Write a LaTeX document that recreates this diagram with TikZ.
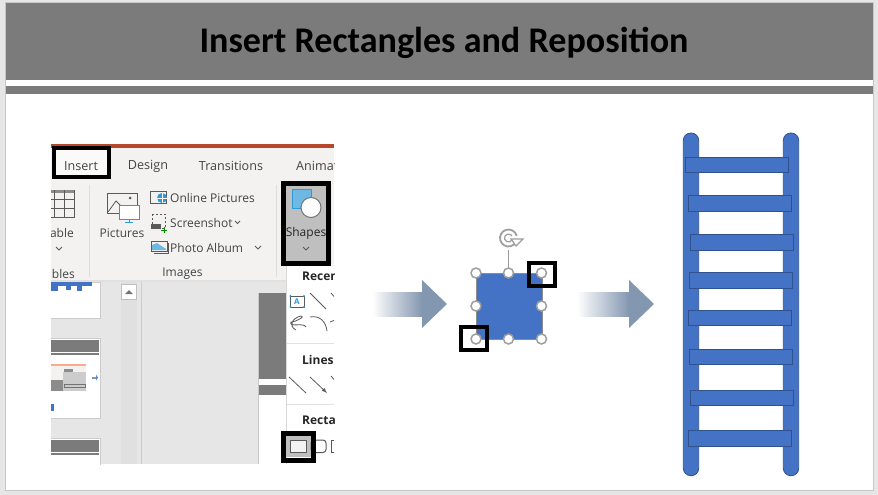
\documentclass[tikz,border=0pt]{standalone}
\usepackage{fontspec}
\setmainfont{Carlito}
\newfontfamily\uifont{Open Sans}
\definecolor{slidegrey}{HTML}{7B7B7B}
\definecolor{bluefill}{HTML}{4472C4}
\definecolor{blueline}{HTML}{2F528F}
\definecolor{arrowblue}{HTML}{8497B0}
\definecolor{ribbonbg}{HTML}{F3F2F1}
\definecolor{panelbg}{HTML}{E6E6E6}
\definecolor{uitext}{HTML}{444444}
\definecolor{iconblue}{HTML}{2E9BD9}
\definecolor{iconline}{HTML}{5A5A5A}
\definecolor{officered}{HTML}{B7472A}
\tikzset{
  x=1pt,y=-1pt,
  uilabel/.style={font=\uifont\fontsize{12}{14}\selectfont,text=uitext,inner sep=0pt},
  uitab/.style={font=\uifont\fontsize{12.6}{14}\selectfont,text=uitext,inner sep=0pt},
  uibold/.style={font=\uifont\bfseries\fontsize{12}{14}\selectfont,text=black!85,inner sep=0pt,anchor=west},
  blackframe/.style={draw=black,line width=4pt},
  heavyframe/.style={draw=black,line width=5pt},
  rail/.style={fill=bluefill,draw=blueline,line width=.8pt,rounded corners=7.5pt},
  rung/.style={fill=bluefill,draw=blueline,line width=1pt},
  handle/.style={circle,draw=black!38,fill=white,line width=1.5pt,minimum size=10pt,inner sep=0pt},
  icon/.style={draw=iconline,line width=.8pt},
  thumb/.style={fill=white,draw=black!20,line width=.7pt},
  fadeshaft/.style={left color=white,middle color=arrowblue!38,right color=arrowblue},
}
\begin{document}
\begin{tikzpicture}
\useasboundingbox (0,0) rectangle (878,495);
\fill[panelbg] (0,0) rectangle (878,495);
\fill[white] (5.5,2.5) rectangle (873,490.5);
\draw[black!22,line width=1pt] (5.5,490.5) -- (5.5,2.5) -- (873,2.5) -- (873,490.5) -- cycle;
% header
\fill[slidegrey] (6,3) rectangle (873,80);
\fill[slidegrey] (6,86) rectangle (873,94);
\node[font=\bfseries\fontsize{36.1}{40}\selectfont,text=black,inner sep=0pt] (title) at (444,43) {Insert Rectangles and Reposition};
% screenshot
\begin{scope}
\clip (51,144) rectangle (334,464);
\fill[panelbg] (51,280) rectangle (334,464);
\fill[ribbonbg] (51,148) rectangle (334,280);
\fill[black!12] (51,280) rectangle (286,282);
\fill[officered] (51,144) rectangle (334,148);
% tabs
\fill[white!60!ribbonbg] (56,150) rectangle (107,175);
\node[uitab] (tabinsert) at (81,166) {Insert};
\node[uitab] (tabdesign) at (148,166) {Design};
\node[uitab] (tabtrans) at (231,166) {Transitions};
\node[uitab,anchor=west] (tabanim) at (296,166) {Animations};
% separators
\fill[black!13] (88.5,185) rectangle (90,277);
\fill[black!13] (275.5,185) rectangle (277,277);
% table icon
\draw[icon] (40,190) rectangle (74,217);
\fill[iconline!70] (40,190) rectangle (74,193);
\draw[icon] (40,199) -- (74,199) (40,208) -- (74,208) (54,190) -- (54,217) (64,190) -- (64,217);
\node[uilabel,anchor=east] (tablelabel) at (74,233) {Table};
\draw[icon] (56,247) -- (59,250) -- (62,247);
\node[uilabel,anchor=east] (tablesgroup) at (75,274) {Tables};
% pictures
\draw[icon] (107.5,193) rectangle (137,213);
\draw[icon] (108,212) -- (116,201) -- (124,209);
\fill[iconline] (130,198) circle (1.5);
\draw[iconblue,fill=white,line width=.9pt] (119.5,205) rectangle (139,219);
\draw[iconblue,line width=.9pt] (129,219) -- (129,222) (125,222) -- (133,222);
\node[uilabel] (pictures) at (122,233) {Pictures};
\draw[icon] (150.5,191) rectangle (166,203);
\fill[iconblue] (162,198) circle (5);
\draw[white,line width=.5pt] (157,198) -- (167,198) (162,193) -- (162,203);
\node[uilabel,anchor=west] (online) at (170,198) {Online Pictures};
\draw[icon,dash pattern=on 2pt off 2pt] (152,214) rectangle (165,228);
\fill[iconline] (150.5,224) rectangle (161,229);
\draw[green!55!black,line width=.9pt] (164,227) -- (164,233) (161,230) -- (167,230);
\node[uilabel,anchor=west] (shot) at (170,223) {Screenshot};
\draw[icon] (235,221) -- (237.5,223.5) -- (240,221);
\draw[icon] (151,241) rectangle (167,251);
\fill[iconblue!70] (152,250) -- (152,245) -- (157,243) -- (166,249) -- (166,250) -- cycle;
\draw[icon] (154,253) -- (168,253) -- (168,243);
\node[uilabel,anchor=west] (album) at (170,248) {Photo Album};
\draw[icon] (255,246) -- (258,249) -- (261,246);
\node[uilabel] (images) at (182.5,274) {Images};
% shapes button
\fill[black!25] (283,183) rectangle (329,264);
\fill[iconblue!70,draw=iconblue] (292,189.5) rectangle (311.5,208);
\draw[black!55,fill=white,line width=1pt] (311,207.5) circle (10);
\node[uilabel,text=black!85] (shapeslabel) at (306,233) {Shapes};
\draw[icon] (303,247) -- (306,250) -- (309,247);
% left thumbnails
\fill[thumb] (40,282) rectangle (100,318);
\fill[bluefill] (51,282) rectangle (92,286);
\fill[bluefill] (51,286) rectangle (58,291);
\fill[bluefill] (66,286) rectangle (71,290);
\fill[bluefill] (77,286) rectangle (82,291);
\fill[thumb] (40,338) rectangle (100,418);
\fill[slidegrey] (40,340) rectangle (99,352);
\fill[slidegrey] (40,353) rectangle (99,355);
\fill[ribbonbg] (51,364) rectangle (86,391);
\fill[red!50!orange!45] (51,364) rectangle (86,366);
\fill[black!45] (64,369) rectangle (73,372);
\fill[black!45] (51,380) rectangle (86,391);
\fill[black!20] (63,372) rectangle (86,391);
\draw[black!55,line width=.8pt] (64,384) rectangle (85,387.5);
\fill[arrowblue] (92,376.5) rectangle (96,378.5);
\fill[bluefill!85] (96,374.5) -- (98,377.5) -- (96,380.5) -- cycle;
\fill[bluefill] (51,404) rectangle (54,411);
\fill[thumb] (40,438) rectangle (100,480);
\fill[slidegrey] (40,440) rectangle (99,452);
\fill[slidegrey] (40,453) rectangle (99,455);
% scrollbar
\fill[black!12] (121,282) rectangle (137,464);
\fill[white,draw=black!25,line width=.7pt] (121.5,284.5) rectangle (136.5,299.5);
\fill[black!55] (125,294) -- (129,290) -- (133,294) -- cycle;
\draw[black!20,line width=.8pt] (141,282) -- (141,464);
% slide preview
\fill[white] (258,293) rectangle (290,464);
\draw[black!22,line width=.7pt] (258,293) -- (258,464);
\fill[slidegrey] (259,293) rectangle (290,379);
\fill[slidegrey] (259,385) rectangle (290,395);
% shapes gallery
\fill[white] (286,266) rectangle (334,464);
\draw[black!15,line width=.7pt] (286,266) -- (286,464);
\draw[black!12,line width=1pt] (287,343) -- (334,343) (287,404) -- (334,404);
\node[uibold] (recent) at (302,277) {Recently};
\draw[iconline,line width=.9pt] (290.5,296) rectangle (304,307);
\foreach \p in {(290.5,296),(304,296),(290.5,307),(304,307)} \fill[iconblue] \p circle (1.2);
\node[font=\uifont\bfseries\fontsize{8}{9}\selectfont,text=iconblue,inner sep=0pt] (aicon) at (297,301.5) {A};
\draw[icon] (310,293) -- (326,309);
\draw[icon] (331,293) -- (345,309);
\draw[icon] (296,330) .. controls (288,326) and (292,318) .. (301,316) .. controls (306,316) and (296,322) .. (291,322) .. controls (288,328) and (304,322) .. (306,327);
\draw[icon] (310,317) .. controls (320,315) and (326,322) .. (327,331);
\draw[icon] (330,322) -- (345,316);
\node[uibold] (lines) at (302,359.5) {Lines};
\draw[icon] (289,377) -- (306,393);
\draw[icon,-latex] (310,377) -- (327,393);
\draw[icon] (331,376) -- (345,392);
\node[uibold] (rects) at (302,421.5) {Rectangles};
\fill[black!25] (286,436) rectangle (312,457);
\draw[iconline,fill=ribbonbg,line width=1pt] (290,440) rectangle (306,452.5);
\draw[iconline,line width=1pt,rounded corners=3pt] (311,440) rectangle (326,452.5);
\draw[iconline,line width=1pt] (331,440) rectangle (345,452.5);
\end{scope}
% black frames on screenshot
\draw[blackframe] (54,148) rectangle (109,177);
\draw[heavyframe] (283.5,183.5) rectangle (328.5,263.5);
\draw[heavyframe] (283.5,433.5) rectangle (313.5,460.5);
% arrows
\shade[fadeshaft] (372,292) rectangle (422,316);
\fill[arrowblue] (422,280) -- (447,304) -- (422,328) -- cycle;
\shade[fadeshaft] (577,292) rectangle (629,316);
\fill[arrowblue] (629,280) -- (654,304) -- (629,328) -- cycle;
% selected square
\draw[black!40,line width=1pt] (508.5,250) -- (508.5,273);
\fill[bluefill,draw=black!45,line width=.8pt] (476,273) rectangle (542,339);
\draw[black!38,line width=1.8pt] (508.5,238) ++(30:8.5) arc[start angle=30,end angle=345,radius=8.5];
\draw[black!38,line width=1.2pt] (508.5,238) ++(30:4) arc[start angle=30,end angle=330,radius=4];
\draw[black!38,line width=1.2pt,fill=white] (511,239) -- (523,239) -- (516,246) -- cycle;
\node[handle] (h1) at (476,273) {};
\node[handle] (h2) at (508.5,273) {};
\node[handle] (h3) at (541.5,273) {};
\node[handle] (h4) at (476,306) {};
\node[handle] (h5) at (541.5,306) {};
\node[handle] (h6) at (476,339) {};
\node[handle] (h7) at (508.5,339) {};
\node[handle] (h8) at (541.5,339) {};
\draw[blackframe] (529,263) rectangle (555,286);
\draw[blackframe] (461,327) rectangle (487,350);
% ladder
\draw[rail] (683.3,133) rectangle (698.7,475.7);
\draw[rail] (783.3,133) rectangle (798.7,475.7);
\foreach \a/\b/\c/\d in {46/97/356/142,55/211/365/259,61/328/371/376,58/442/368/490,55/556/365/601,58/673/368/718,61/796/371/841,55/916/365/964}
  \draw[rung] ({670+\a/3},{125+\b/3}) rectangle ({670+\c/3},{125+\d/3});
\end{tikzpicture}
\end{document}
